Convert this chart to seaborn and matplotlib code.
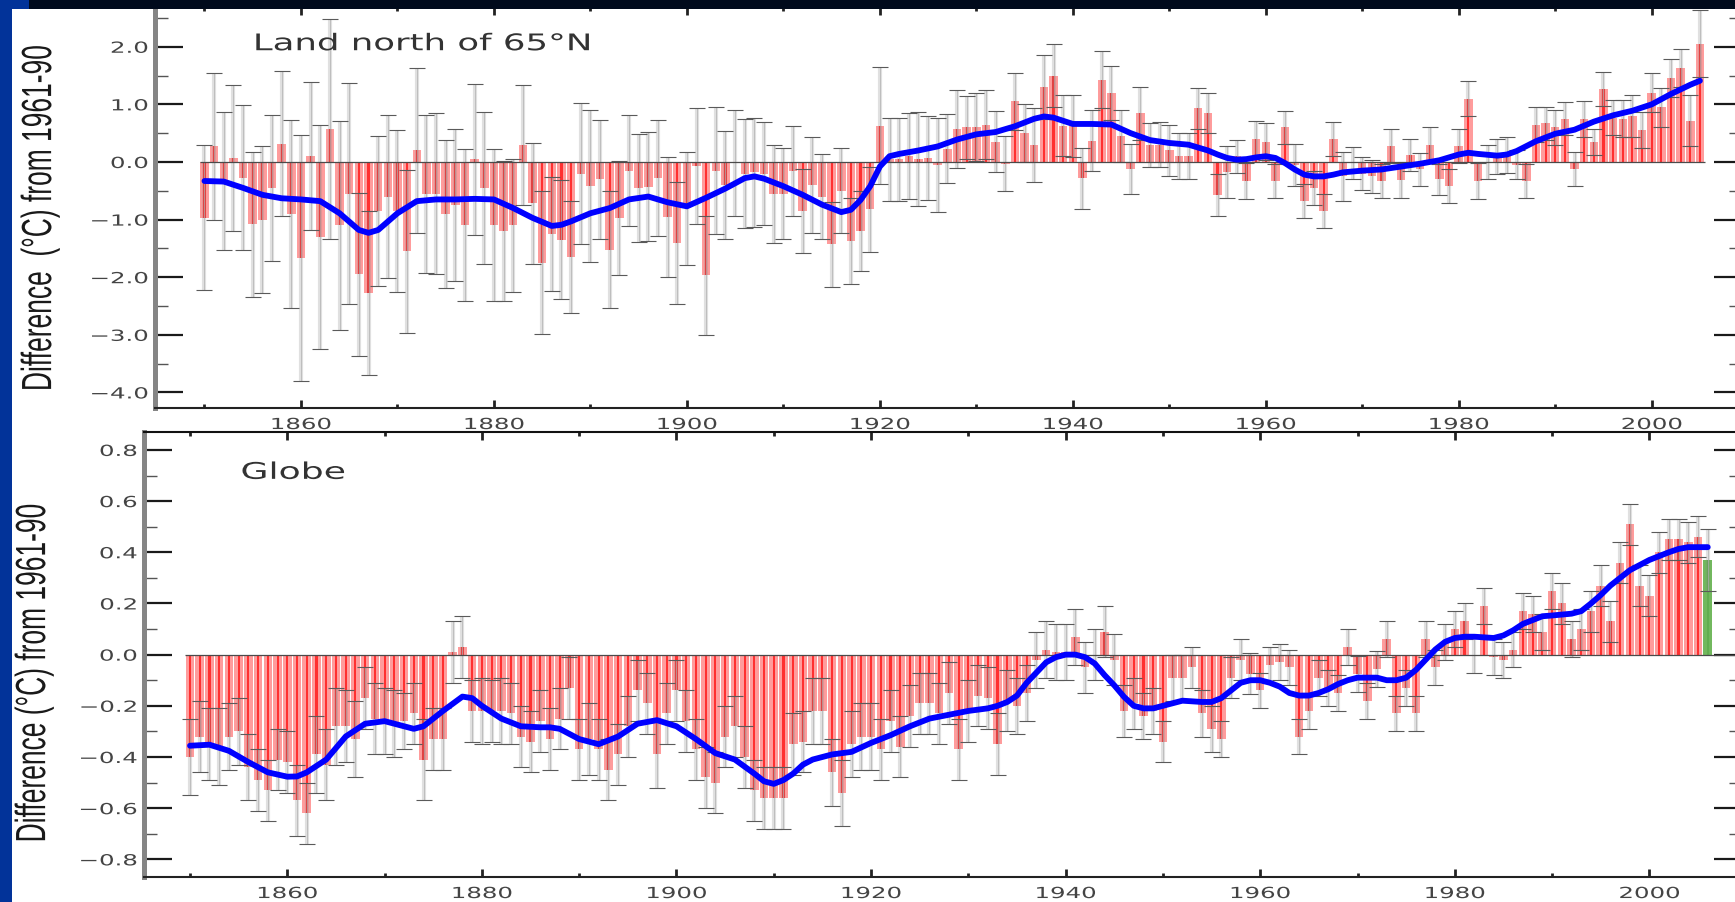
import numpy as np
import pandas as pd
import matplotlib
matplotlib.use("Agg")
import matplotlib.pyplot as plt
import seaborn as sns
from matplotlib.patches import Rectangle
from matplotlib.patheffects import AbstractPathEffect
from matplotlib.transforms import Affine2D
from matplotlib.ticker import MultipleLocator

# ---------------- data ----------------
ARCTIC_YEARS = list(range(1850, 2006))
ARCTIC_VALUES = [
    -0.97, 0.27, -0.33, 0.07, -0.27, -1.08, -1.00, -0.45, 0.32, -0.90,
    -1.67, 0.10, -1.30, 0.57, -1.10, -0.55, -1.95, -2.27, -0.85, -0.60,
    -0.85, -1.55, 0.20, -0.55, -0.55, -0.90, -0.75, -1.10, 0.05, -0.45,
    -1.10, -1.20, -1.10, 0.30, -0.72, -1.75, -1.25, -1.35, -1.65, -0.20,
    -0.42, -0.30, -1.52, -0.97, -0.15, -0.45, -0.43, -0.28, -0.95, -1.40,
    -0.80, -0.07, -1.97, -0.15, -0.40, -0.02, -0.20, -0.18, -0.20, -0.55,
    -0.55, -0.15, -0.85, -0.40, -0.60, -1.43, -0.50, -1.37, -1.20, -0.82,
    0.63, 0.05, 0.05, 0.10, 0.05, 0.07, -0.05, 0.23, 0.57, 0.60,
    0.60, 0.65, 0.35, -0.03, 1.05, 0.50, 0.30, 1.30, 1.50, 0.63,
    0.63, -0.28, 0.37, 1.43, 1.20, 0.45, -0.12, 0.85, 0.30, 0.30,
    0.20, 0.10, 0.10, 0.93, 0.85, -0.57, -0.17, 0.10, -0.33, 0.40,
    0.35, -0.33, 0.60, -0.05, -0.68, -0.45, -0.85, 0.40, -0.25, -0.02,
    -0.20, -0.25, -0.33, 0.28, -0.32, 0.12, -0.13, 0.30, -0.30, -0.42,
    0.28, 1.10, -0.33, 0.00, 0.10, 0.12, -0.05, -0.33, 0.65, 0.67,
    0.60, 0.75, -0.12, 0.75, 0.35, 1.27, 0.77, 0.75, 0.80, 0.55,
    1.20, 0.95, 1.45, 1.63, 0.72, 2.05,
]
ARCTIC_ERRORS = [
    1.26, 1.28, 1.20, 1.26, 1.26, 1.26, 1.27, 1.26, 1.26, 1.63,
    2.14, 1.28, 1.94, 1.91, 1.82, 1.92, 1.42, 1.42, 1.30, 1.42,
    1.41, 1.41, 1.43, 1.37, 1.40, 1.28, 1.32, 1.32, 1.31, 1.32,
    1.32, 1.22, 1.16, 1.04, 1.05, 1.24, 0.99, 1.03, 0.97, 1.22,
    1.32, 1.03, 1.01, 0.99, 0.96, 0.94, 0.95, 1.01, 1.04, 1.06,
    0.98, 1.00, 1.03, 1.10, 0.93, 0.92, 0.94, 0.94, 0.90, 0.85,
    0.79, 0.78, 0.73, 0.83, 0.73, 0.74, 0.74, 0.74, 0.70, 0.74,
    1.01, 0.72, 0.72, 0.75, 0.81, 0.73, 0.81, 0.60, 0.68, 0.54,
    0.59, 0.60, 0.53, 0.48, 0.50, 0.50, 0.64, 0.55, 0.55, 0.53,
    0.54, 0.53, 0.53, 0.49, 0.47, 0.45, 0.44, 0.46, 0.38, 0.39,
    0.44, 0.40, 0.40, 0.35, 0.35, 0.37, 0.45, 0.29, 0.31, 0.31,
    0.32, 0.30, 0.28, 0.37, 0.30, 0.30, 0.30, 0.29, 0.43, 0.28,
    0.28, 0.28, 0.30, 0.29, 0.31, 0.28, 0.28, 0.30, 0.27, 0.29,
    0.30, 0.30, 0.31, 0.30, 0.30, 0.31, 0.25, 0.30, 0.30, 0.29,
    0.31, 0.29, 0.29, 0.31, 0.23, 0.30, 0.31, 0.32, 0.36, 0.31,
    0.34, 0.34, 0.33, 0.33, 0.45, 0.58,
]
ARCTIC_SMOOTH_YEARS = [
    1850, 1852, 1854, 1856, 1858, 1860, 1862, 1864, 1866, 1867, 1868, 1870,
    1872, 1874, 1876, 1878, 1880, 1882, 1884, 1886, 1887, 1888, 1890, 1892,
    1894, 1896, 1898, 1900, 1902, 1904, 1906, 1907, 1908, 1910, 1912, 1914,
    1916, 1917, 1918, 1919, 1920, 1921, 1922, 1924, 1926, 1928, 1930, 1932,
    1934, 1936, 1937, 1938, 1940, 1942, 1944, 1946, 1948, 1950, 1952, 1954,
    1955, 1956, 1957, 1958, 1959, 1960, 1961, 1962, 1963, 1964, 1965, 1966,
    1967, 1968, 1970, 1972, 1974, 1976, 1978, 1980, 1981, 1982, 1984, 1985,
    1986, 1988, 1990, 1992, 1994, 1996, 1998, 2000, 2002, 2004, 2005,
]
ARCTIC_SMOOTH = [
    -0.33, -0.34, -0.45, -0.57, -0.63, -0.65, -0.68, -0.89, -1.18, -1.23, -1.18, -0.89,
    -0.68, -0.65, -0.65, -0.64, -0.65, -0.80, -0.97, -1.11, -1.09, -1.03, -0.89, -0.80,
    -0.65, -0.60, -0.70, -0.77, -0.62, -0.46, -0.28, -0.25, -0.29, -0.42, -0.57, -0.74,
    -0.87, -0.83, -0.66, -0.42, -0.08, 0.10, 0.14, 0.20, 0.27, 0.39, 0.48, 0.52,
    0.62, 0.75, 0.79, 0.77, 0.66, 0.66, 0.65, 0.50, 0.38, 0.33, 0.30, 0.20,
    0.13, 0.07, 0.04, 0.05, 0.08, 0.10, 0.07, -0.02, -0.13, -0.22, -0.25, -0.25,
    -0.22, -0.18, -0.15, -0.13, -0.08, -0.03, 0.03, 0.13, 0.16, 0.14, 0.11, 0.13,
    0.19, 0.36, 0.49, 0.56, 0.70, 0.81, 0.89, 1.00, 1.18, 1.34, 1.41,
]

GLOBE_YEARS = list(range(1850, 2007))
GLOBE_VALUES = [
    -0.40, -0.32, -0.35, -0.36, -0.32, -0.30, -0.44, -0.49, -0.53, -0.41,
    -0.42, -0.57, -0.62, -0.39, -0.43, -0.28, -0.28, -0.33, -0.17, -0.25,
    -0.26, -0.27, -0.26, -0.23, -0.41, -0.33, -0.33, 0.01, 0.03, -0.22,
    -0.22, -0.22, -0.22, -0.23, -0.32, -0.34, -0.26, -0.33, -0.25, -0.13,
    -0.37, -0.33, -0.37, -0.45, -0.39, -0.28, -0.14, -0.19, -0.39, -0.23,
    -0.14, -0.26, -0.37, -0.48, -0.50, -0.32, -0.28, -0.40, -0.53, -0.56,
    -0.56, -0.56, -0.35, -0.34, -0.22, -0.22, -0.46, -0.54, -0.35, -0.32,
    -0.32, -0.37, -0.26, -0.36, -0.24, -0.19, -0.19, -0.23, -0.15, -0.37,
    -0.22, -0.16, -0.17, -0.35, -0.18, -0.20, -0.15, -0.02, 0.02, 0.01,
    0.01, 0.07, -0.05, 0.00, 0.09, -0.02, -0.22, -0.19, -0.24, -0.22,
    -0.34, -0.09, -0.09, -0.05, -0.23, -0.29, -0.33, -0.09, -0.02, -0.075,
    -0.14, -0.04, -0.03, -0.05, -0.32, -0.22, -0.09, -0.13, -0.15, 0.03,
    -0.075, -0.18, -0.055, 0.06, -0.23, -0.13, -0.23, 0.06, -0.05, 0.05,
    0.10, 0.13, 0.00, 0.19, -0.01, -0.02, 0.02, 0.17, 0.16, 0.09,
    0.25, 0.20, 0.06, 0.10, 0.17, 0.27, 0.13, 0.36, 0.51, 0.27,
    0.23, 0.40, 0.45, 0.45, 0.44, 0.46, 0.37,
]
GLOBE_ERRORS = [
    0.15, 0.14, 0.14, 0.15, 0.13, 0.13, 0.13, 0.12, 0.12, 0.12,
    0.12, 0.14, 0.12, 0.15, 0.14, 0.15, 0.14, 0.15, 0.12, 0.14,
    0.13, 0.13, 0.11, 0.12, 0.16, 0.12, 0.12, 0.12, 0.12, 0.12,
    0.13, 0.12, 0.13, 0.12, 0.12, 0.12, 0.12, 0.12, 0.12, 0.12,
    0.12, 0.14, 0.12, 0.12, 0.12, 0.12, 0.12, 0.12, 0.13, 0.12,
    0.12, 0.12, 0.12, 0.12, 0.12, 0.12, 0.12, 0.12, 0.12, 0.12,
    0.12, 0.12, 0.12, 0.12, 0.13, 0.13, 0.13, 0.13, 0.13, 0.13,
    0.13, 0.12, 0.12, 0.12, 0.12, 0.12, 0.12, 0.12, 0.12, 0.12,
    0.12, 0.12, 0.12, 0.12, 0.12, 0.11, 0.11, 0.11, 0.11, 0.11,
    0.11, 0.11, 0.10, 0.10, 0.10, 0.10, 0.10, 0.10, 0.09, 0.09,
    0.08, 0.09, 0.09, 0.08, 0.09, 0.09, 0.07, 0.08, 0.08, 0.08,
    0.07, 0.07, 0.07, 0.07, 0.07, 0.07, 0.07, 0.07, 0.07, 0.07,
    0.07, 0.07, 0.07, 0.07, 0.07, 0.07, 0.07, 0.07, 0.07, 0.07,
    0.07, 0.07, 0.07, 0.07, 0.07, 0.07, 0.07, 0.07, 0.07, 0.07,
    0.07, 0.08, 0.07, 0.08, 0.08, 0.08, 0.08, 0.08, 0.08, 0.08,
    0.08, 0.08, 0.08, 0.08, 0.08, 0.08, 0.12,
]
GLOBE_KIND = ["annual"] * 156 + ["partial"]
GLOBE_SMOOTH_YEARS = [
    1850, 1852, 1854, 1856, 1858, 1860, 1861, 1862, 1864, 1866, 1868, 1870,
    1872, 1873, 1874, 1876, 1878, 1879, 1880, 1882, 1884, 1886, 1887, 1888,
    1890, 1892, 1894, 1896, 1898, 1900, 1902, 1904, 1906, 1908, 1909, 1910,
    1911, 1912, 1913, 1914, 1916, 1918, 1920, 1922, 1924, 1926, 1928, 1930,
    1932, 1933, 1934, 1935, 1936, 1937, 1938, 1939, 1940, 1941, 1942, 1943,
    1944, 1945, 1946, 1947, 1948, 1949, 1950, 1952, 1954, 1955, 1956, 1957,
    1958, 1959, 1960, 1961, 1962, 1963, 1964, 1965, 1966, 1967, 1968, 1969,
    1970, 1972, 1973, 1974, 1975, 1976, 1977, 1978, 1979, 1980, 1981, 1982,
    1984, 1985, 1986, 1987, 1988, 1989, 1990, 1992, 1993, 1994, 1995, 1996,
    1997, 1998, 1999, 2000, 2001, 2002, 2003, 2004, 2006,
]
GLOBE_SMOOTH = [
    -0.356, -0.352, -0.376, -0.42, -0.46, -0.477, -0.476, -0.46, -0.41, -0.32, -0.27, -0.26,
    -0.28, -0.29, -0.28, -0.22, -0.164, -0.17, -0.20, -0.25, -0.28, -0.284, -0.284, -0.29,
    -0.33, -0.35, -0.32, -0.27, -0.256, -0.28, -0.33, -0.385, -0.41, -0.465, -0.495, -0.505,
    -0.49, -0.465, -0.43, -0.41, -0.39, -0.38, -0.345, -0.315, -0.28, -0.25, -0.235, -0.22,
    -0.21, -0.20, -0.185, -0.16, -0.11, -0.07, -0.03, -0.01, 0.0, 0.0, -0.01, -0.035,
    -0.08, -0.12, -0.165, -0.20, -0.21, -0.21, -0.20, -0.18, -0.185, -0.185, -0.17, -0.14,
    -0.11, -0.10, -0.10, -0.11, -0.125, -0.15, -0.16, -0.16, -0.15, -0.135, -0.115, -0.10,
    -0.09, -0.09, -0.10, -0.10, -0.09, -0.06, -0.02, 0.02, 0.05, 0.065, 0.07, 0.07,
    0.065, 0.075, 0.095, 0.12, 0.135, 0.15, 0.153, 0.16, 0.17, 0.20, 0.233, 0.27,
    0.30, 0.33, 0.35, 0.37, 0.385, 0.40, 0.413, 0.42, 0.42,
]

X_TICKS = [1860, 1880, 1900, 1920, 1940, 1960, 1980, 2000]
X_TICK_LABELS = ["1860", "1880", "1900", "1920", "1940", "1960", "1980", "2000"]
ARCTIC_Y_TICKS = [2.0, 1.0, 0.0, -1.0, -2.0, -3.0, -4.0]
ARCTIC_Y_LABELS = ["2.0", "1.0", "0.0", "\u22121.0", "\u22122.0", "\u22123.0", "\u22124.0"]
GLOBE_Y_TICKS = [0.8, 0.6, 0.4, 0.2, 0.0, -0.2, -0.4, -0.6, -0.8]
GLOBE_Y_LABELS = ["0.8", "0.6", "0.4", "0.2", "0.0", "\u22120.2", "\u22120.4", "\u22120.6", "\u22120.8"]
TITLE_TOP = "Land north of 65\u00b0N"
TITLE_BOTTOM = "Globe"
Y_LABEL_TOP = "Difference  (\u00b0C) from 1961-90"
Y_LABEL_BOTTOM = "Difference (\u00b0C) from 1961-90"


# ---------------- helpers ----------------
class HStretch(AbstractPathEffect):
    """Widen glyph outlines horizontally (the original artwork is stretched)."""

    def __init__(self, sx, anchor="center"):
        super().__init__()
        self._sx = sx
        self._anchor = anchor

    def draw_path(self, renderer, gc, tpath, affine, rgbFace=None):
        ext = tpath.get_extents(affine)
        if self._anchor == "right":
            cx = ext.x1
        elif self._anchor == "left":
            cx = ext.x0
        else:
            cx = 0.5 * (ext.x0 + ext.x1)
        new_aff = affine + Affine2D().translate(-cx, 0).scale(self._sx, 1).translate(cx, 0)
        renderer.draw_path(gc, tpath, new_aff, rgbFace)


W, H = 1735, 902
sns.set_theme(style="white")
plt.rcParams["font.family"] = ["DejaVu Sans"]
plt.rcParams["axes.grid"] = False

fig = plt.figure(figsize=(W / 100, H / 100), dpi=100, facecolor="white")


def px_axes(left, top, right, bottom):
    return fig.add_axes([left / W, 1 - bottom / H, (right - left) / W, (bottom - top) / H])


ax1 = px_axes(155, 7, 1742, 408)
ax2 = px_axes(144, 432, 1742, 877)

BAR_COLOR = "#ff9c9c"
CORE_COLOR = "#ff3030"
GREEN = "#72b85e"
GREEN_CORE = "#62ad50"


def draw_panel(ax, df, sm_x, sm_y, palette, core_palette, xlim, ylim, yticks, ylabels,
               yminor, zero_end):
    sns.barplot(data=df, x="year", y="value", hue="kind", palette=palette,
                native_scale=True, dodge=False, width=0.88, saturation=1,
                errorbar=None, legend=False, ax=ax, linewidth=0, zorder=2)
    sns.barplot(data=df, x="year", y="value", hue="kind", palette=core_palette,
                native_scale=True, dodge=False, width=0.22, saturation=1,
                errorbar=None, legend=False, ax=ax, linewidth=0, zorder=2.1)
    # light grey band of the uncertainty range
    ax.errorbar(df["year"], df["value"], yerr=df["err"], fmt="none",
                ecolor=(0.5, 0.5, 0.5, 0.24), elinewidth=3.0, capsize=0, zorder=3)
    # thin centre line
    ax.errorbar(df["year"], df["value"], yerr=df["err"], fmt="none",
                ecolor="#b0b0b0", elinewidth=0.5, capsize=0, zorder=3.1)
    # dark caps
    ax.errorbar(df["year"], df["value"], yerr=df["err"], fmt="none",
                ecolor="#5a5a5a", elinewidth=0, capsize=6, capthick=0.8, zorder=3.2)
    ax.hlines(0, df["year"].iloc[0] - 0.5, zero_end, color="#4a4a4a", lw=0.9, zorder=3.5)
    sns.lineplot(x=sm_x, y=sm_y, color="#0000ff", lw=4.2, ax=ax, zorder=5,
                 solid_capstyle="round", solid_joinstyle="round")

    ax.set_xlim(*xlim)
    ax.set_ylim(*ylim)
    ax.set_xlabel("")
    ax.set_facecolor("none")
    ax.set_xticks(X_TICKS, X_TICK_LABELS)
    ax.xaxis.set_minor_locator(MultipleLocator(10))
    ax.set_yticks(yticks, ylabels)
    ax.yaxis.set_minor_locator(MultipleLocator(yminor))

    ax.tick_params(axis="x", which="major", direction="in", length=5.8, width=2,
                   color="#222222", top=True, bottom=True, pad=6.5,
                   labelsize=11, labelcolor="#444444")
    ax.tick_params(axis="x", which="minor", direction="in", length=2.9, width=2,
                   color="#222222", top=True, bottom=True)
    ax.tick_params(axis="y", which="major", direction="in", length=20, width=1.6,
                   color="#1a1a1a", left=True, right=True, pad=5,
                   labelsize=11, labelcolor="#444444")
    ax.tick_params(axis="y", which="minor", direction="in", length=9.4, width=1.0,
                   color="#555555", left=True, right=True)

    ax.spines["left"].set(color="#858585", lw=3.6)
    ax.spines["bottom"].set(color="#222222", lw=1.5)
    ax.spines["top"].set(color="#111111", lw=1.5)
    ax.spines["right"].set(color="#222222", lw=1.5)

    for t in ax.get_xticklabels():
        t.set_path_effects([HStretch(1.6, "center")])
    for t in ax.get_yticklabels():
        t.set_path_effects([HStretch(1.6, "right")])


arctic = pd.DataFrame({"year": ARCTIC_YEARS, "value": ARCTIC_VALUES,
                       "err": ARCTIC_ERRORS, "kind": ["annual"] * len(ARCTIC_YEARS)})
globe = pd.DataFrame({"year": GLOBE_YEARS, "value": GLOBE_VALUES,
                      "err": GLOBE_ERRORS, "kind": GLOBE_KIND})

draw_panel(ax1, arctic, ARCTIC_SMOOTH_YEARS, ARCTIC_SMOOTH,
           {"annual": BAR_COLOR}, {"annual": CORE_COLOR},
           (1844.87, 2009.36), (-4.27, 2.69), ARCTIC_Y_TICKS, ARCTIC_Y_LABELS, 0.5, 2005.5)
draw_panel(ax2, globe, GLOBE_SMOOTH_YEARS, GLOBE_SMOOTH,
           {"annual": BAR_COLOR, "partial": GREEN}, {"annual": CORE_COLOR, "partial": GREEN_CORE},
           (1845.27, 2009.52), (-0.869, 0.870), GLOBE_Y_TICKS, GLOBE_Y_LABELS, 0.1, 2009.52)

# panel titles
ax1.text(1872.6, 1.94, TITLE_TOP, ha="center", va="baseline", fontsize=16.5,
         color="#333333", zorder=6, path_effects=[HStretch(1.55)])
ax2.text(1860.6, 0.687, TITLE_BOTTOM, ha="center", va="baseline", fontsize=16.5,
         color="#333333", zorder=6, path_effects=[HStretch(1.58)])

# y labels
for ax, lab, lx, ly in ((ax1, Y_LABEL_TOP, (40 - 155) / (1742 - 155), (408 - 218) / 401),
                        (ax2, Y_LABEL_BOTTOM, (34 - 144) / (1742 - 144), (877 - 673) / 445)):
    ax.set_ylabel(lab, fontsize=19, family=["Liberation Sans", "DejaVu Sans"],
                  color="#1a1a1a", ha="center", va="center")
    ax.yaxis.set_label_coords(lx, ly)
    ax.yaxis.label.set_path_effects([HStretch(1.6)])

# slide frame: blue strip on the left, dark band on top
BLUE = "#023399"
DARK = "#000a1c"
fig.add_artist(Rectangle((0, 0), 11.5 / W, 1, transform=fig.transFigure,
                         color=BLUE, lw=0, zorder=10))
fig.add_artist(Rectangle((28.7 / W, 1 - 9 / H), 1, 9 / H, transform=fig.transFigure,
                         color=DARK, lw=0, zorder=10))
fig.add_artist(Rectangle((0, 1 - 9 / H), 28.7 / W, 9 / H, transform=fig.transFigure,
                         color=BLUE, lw=0, zorder=10))

fig.savefig("out.png", dpi=100, facecolor="white")
